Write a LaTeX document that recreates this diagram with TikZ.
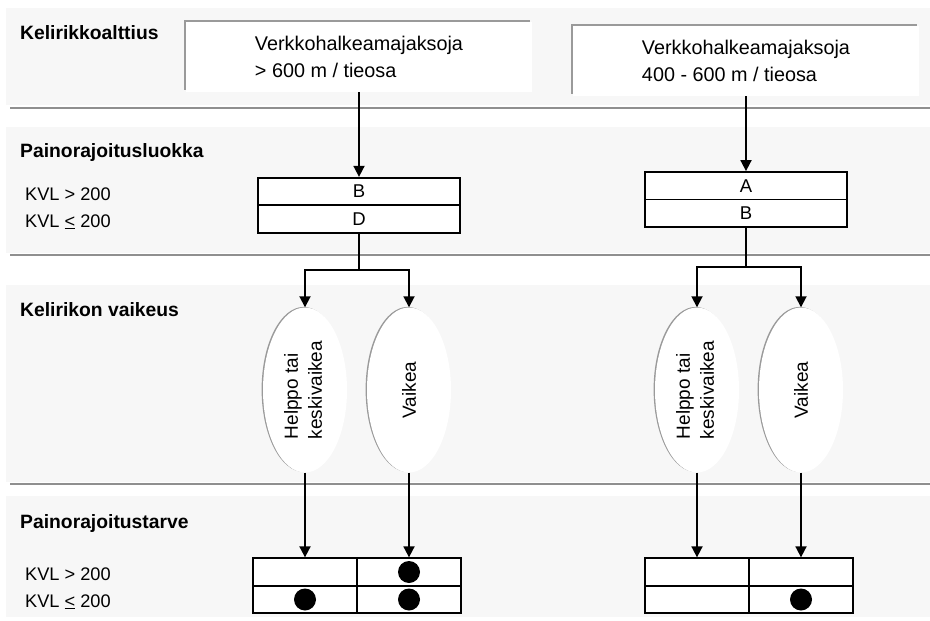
\documentclass[tikz,border=0pt]{standalone}
\usepackage{fontspec}
\usepackage{graphicx}
\setmainfont{Liberation Sans}
\usetikzlibrary{arrows.meta,shapes.geometric,shadows}
\definecolor{bandbg}{HTML}{F7F7F7}
\definecolor{sepline}{HTML}{8F8F8F}
\definecolor{rimgray}{HTML}{9A9A9A}
\begin{document}
\begin{tikzpicture}[x=1pt,y=-1pt,
  font=\fontsize{18.5}{26}\selectfont,
  sep/.style={draw=sepline},
  head/.style={anchor=base west, font=\fontsize{19.3}{22}\selectfont\bfseries, inner sep=0pt},
  kvl/.style={anchor=base west, inner sep=0pt, font=\fontsize{18.2}{22}\selectfont},
  topbox/.style={rectangle, fill=white, minimum width=346pt, minimum height=70pt, align=left, inner sep=0pt,
    font=\fontsize{19.8}{26.5}\selectfont,
    drop shadow={shadow xshift=-1.6pt, shadow yshift=1.6pt, fill=rimgray, opacity=1}},
  cls/.style={rectangle, draw=black, fill=white, line width=1.8pt, minimum width=202pt, minimum height=27.5pt, inner sep=0pt},
  ell/.style={ellipse, fill=white, minimum width=84pt, minimum height=165pt, inner sep=0pt,
    drop shadow={shadow xshift=-1.4pt, shadow yshift=0.6pt, fill=rimgray, opacity=1}, font=\fontsize{19}{24}\selectfont},
  cell/.style={rectangle, draw=black, fill=white, line width=1.8pt, minimum width=104pt, minimum height=27.5pt, inner sep=0pt},
  dot/.style={circle, fill=black, minimum size=22pt, inner sep=0pt},
  conn/.style={draw=black, line width=1.8pt},
  arr/.style={conn, -{Triangle[length=11pt,width=11pt]}}
]
\useasboundingbox (0,0) rectangle (930,621);
% bands
\fill[bandbg] (6,8) rectangle (930,105);
\fill[bandbg] (6,127) rectangle (930,253);
\fill[bandbg] (6,285) rectangle (930,482);
\fill[bandbg] (6,496) rectangle (930,617);
\draw[sep, line width=1.3pt] (10,108) -- (930,108);
\draw[sep, line width=2pt] (10,255) -- (930,255);
\draw[sep, line width=2pt] (10,484) -- (930,484);
% band labels
\node[head] (h1) at (20,39) {Kelirikkoalttius};
\node[head] (h2) at (20,157) {Painorajoitusluokka};
\node[head] (h3) at (20,316) {Kelirikon vaikeus};
\node[head] (h4) at (20,528) {Painorajoitustarve};
\node[kvl] (k1) at (25,200) {KVL > 200};
\node[kvl] (k2) at (25,227) {KVL \underline{<} 200};
\node[kvl] (k3) at (25,580) {KVL > 200};
\node[kvl] (k4) at (25,607) {KVL \underline{<} 200};
% top boxes
\node[topbox] (t1) at (359,57) {Verkkohalkeamajaksoja\\> 600 m / tieosa};
\node[topbox] (t2) at (746,61) {Verkkohalkeamajaksoja\\400 - 600 m / tieosa};
% class boxes
\node[cls] (c1a) at (359,191.5) {B};
\node[cls] (c1b) at (359,219) {D};
\node[cls] (c2a) at (746,185.75) {A};
\node[cls] (c2b) at (746,213.25) {B};
% ellipses
\node[ell] (e1) at (305,390) {\rotatebox{90}{\begin{tabular}{@{}l@{}}Helppo tai\\keskivaikea\end{tabular}}};
\node[ell] (e2) at (409,390) {\rotatebox{90}{Vaikea}};
\node[ell] (e3) at (697,390) {\rotatebox{90}{\begin{tabular}{@{}l@{}}Helppo tai\\keskivaikea\end{tabular}}};
\node[ell] (e4) at (801,390) {\rotatebox{90}{Vaikea}};
% tables
\node[cell] (p11) at (305,572) {};
\node[cell] (p12) at (409,572) {};
\node[cell] (p21) at (305,599.5) {};
\node[cell] (p22) at (409,599.5) {};
\node[cell] (q11) at (697,572) {};
\node[cell] (q12) at (801,572) {};
\node[cell] (q21) at (697,599.5) {};
\node[cell] (q22) at (801,599.5) {};
\node[dot] (d1) at (p12.center) {};
\node[dot] (d2) at (p21.center) {};
\node[dot] (d3) at (p22.center) {};
\node[dot] (d4) at (q22.center) {};
% connectors
\draw[arr] (t1.south) -- (c1a.north);
\draw[arr] (t2.south) -- (c2a.north);
\coordinate (f1) at (359,270);
\coordinate (f2) at (746,267);
\draw[conn] (c1b.south) -- (f1);
\draw[conn] (c2b.south) -- (f2);
\draw[arr] (f1) -| (e1.north);
\draw[arr] (f1) -| (e2.north);
\draw[arr] (f2) -| (e3.north);
\draw[arr] (f2) -| (e4.north);
\draw[arr] (e1.south) -- (p11.north);
\draw[arr] (e2.south) -- (p12.north);
\draw[arr] (e3.south) -- (q11.north);
\draw[arr] (e4.south) -- (q12.north);
\end{tikzpicture}
\end{document}
